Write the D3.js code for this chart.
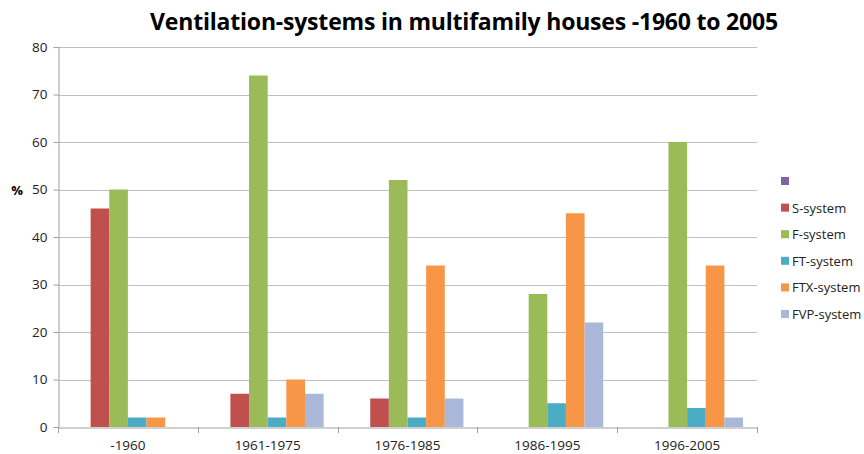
<!DOCTYPE html>
<html>
<head>
<meta charset="utf-8">
<script src="https://cdn.jsdelivr.net/npm/d3@7"></script>
<style>
  body{margin:0;background:#fff;}
  text{font-family:"Open Sans","Noto Sans",sans-serif;}
</style>
</head>
<body>
<div id="chart"></div>
<script>
// data
const categories = ["-1960", "1961-1975", "1976-1985", "1986-1995", "1996-2005"];
const seriesNames = ["", "S-system", "F-system", "FT-system", "FTX-system", "FVP-system"];
const seriesColors = ["#8064A2", "#C0504D", "#9BBB59", "#4BACC6", "#F79646", "#A9B8D8"];
const blankValues = [null, null, null, null, null];
const sValues = [46, 7, 6, 0, 0];
const fValues = [50, 74, 52, 28, 60];
const ftValues = [2, 2, 2, 5, 4];
const ftxValues = [2, 10, 34, 45, 34];
const fvpValues = [0, 7, 6, 22, 2];
const yTicks = [0, 10, 20, 30, 40, 50, 60, 70, 80];

const allValues = [blankValues, sValues, fValues, ftValues, ftxValues, fvpValues];

const width = 864, height = 454;
const plot = {left: 58, right: 757, top: 47, bottom: 427};

const svg = d3.select("#chart").append("svg")
    .attr("width", width)
    .attr("height", height);

// title
svg.append("text")
    .attr("x", 464)
    .attr("y", 30)
    .attr("text-anchor", "middle")
    .style("font-size", "23px")
    .style("font-weight", "bold")
    .style("letter-spacing", "-0.2px")
    .text("Ventilation-systems in multifamily houses -1960 to 2005");

const x0 = d3.scaleBand()
    .domain(categories)
    .range([plot.left, plot.right])
    .padding(0);

// gap width 150% => gap = 1.5 bar; 6 bars + 1.5
const barW = x0.bandwidth() / (seriesNames.length + 1.5);
const x1 = d3.scaleBand()
    .domain(d3.range(seriesNames.length))
    .range([barW * 0.75, x0.bandwidth() - barW * 0.75])
    .padding(0);

const y = d3.scaleLinear()
    .domain([0, 80])
    .range([plot.bottom, plot.top]);

// gridlines
svg.append("g")
    .selectAll("line")
    .data(yTicks.slice(1))
    .join("line")
    .attr("x1", plot.left)
    .attr("x2", plot.right)
    .attr("y1", d => Math.round(y(d)) + 0.5)
    .attr("y2", d => Math.round(y(d)) + 0.5)
    .attr("stroke", "#c0c0c0")
    .attr("stroke-width", 1);

// y axis
const yAxis = svg.append("g")
    .attr("transform", `translate(${plot.left + 0.5},0)`)
    .call(d3.axisLeft(y).tickValues(yTicks).tickSize(5).tickPadding(6));
yAxis.select(".domain").attr("stroke", "#a0a0a0");
yAxis.selectAll(".tick line").attr("stroke", "#a0a0a0");
yAxis.selectAll(".tick text")
    .style("font-size", "13.5px")
    .attr("fill", "#222");

svg.append("text")
    .attr("x", 17)
    .attr("y", 195)
    .attr("text-anchor", "middle")
    .style("font-size", "13px")
    .style("font-weight", "bold")
    .text("%");

// bars
const groups = svg.append("g")
    .selectAll("g")
    .data(categories)
    .join("g")
    .attr("transform", d => `translate(${x0(d)},0)`);

groups.selectAll("rect")
    .data((c, ci) => allValues.map((vals, si) => ({si: si, v: vals[ci]})))
    .join("rect")
    .filter(d => d.v !== null && d.v > 0)
    .attr("x", d => x1(d.si))
    .attr("width", x1.bandwidth())
    .attr("y", d => y(d.v))
    .attr("height", d => y(0) - y(d.v))
    .attr("fill", d => seriesColors[d.si]);

// x axis
const xAxis = svg.append("g")
    .attr("transform", `translate(0,${plot.bottom + 0.5})`)
    .call(d3.axisBottom(x0).tickSize(0).tickPadding(13));
xAxis.select(".domain").attr("stroke", "#a0a0a0");
xAxis.selectAll(".tick text")
    .style("font-size", "13.5px")
    .attr("fill", "#222");

const boundaries = categories.map(c => x0(c)).concat([plot.right]);
svg.append("g")
    .selectAll("line")
    .data(boundaries)
    .join("line")
    .attr("x1", d => Math.round(d) + 0.5)
    .attr("x2", d => Math.round(d) + 0.5)
    .attr("y1", plot.bottom)
    .attr("y2", plot.bottom + 6)
    .attr("stroke", "#a0a0a0");

// legend
const legend = svg.append("g")
    .selectAll("g")
    .data(seriesNames)
    .join("g")
    .attr("transform", (d, i) => `translate(781,${181 + i * 26.6})`);

legend.append("rect")
    .attr("x", 0)
    .attr("y", -4)
    .attr("width", 8)
    .attr("height", 8)
    .attr("fill", (d, i) => seriesColors[i]);

legend.append("text")
    .attr("x", 11)
    .attr("y", 5)
    .style("font-size", "13px")
    .attr("fill", "#222")
    .text(d => d);
</script>
</body>
</html>
